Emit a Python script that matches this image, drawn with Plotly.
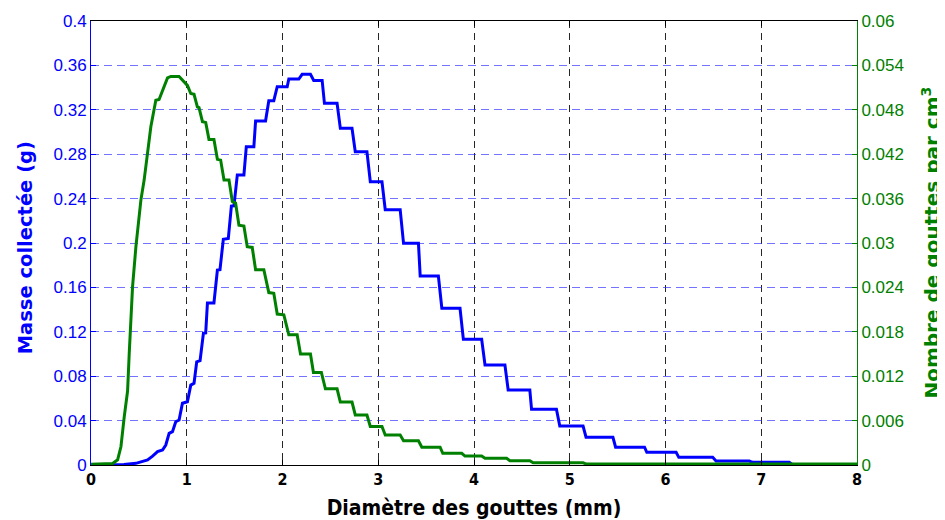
import plotly.graph_objects as go

# Diameter (mm) / collected mass (g) – blue staircase
mass_x = [0.000, 0.344, 0.469, 0.521, 0.591, 0.643, 0.695, 0.747, 0.781, 0.816, 0.851, 0.885, 0.920,
          0.955, 1.007, 1.042, 1.076, 1.104, 1.139, 1.174, 1.198, 1.216, 1.284, 1.320, 1.347, 1.382,
          1.434, 1.466, 1.493, 1.528, 1.597, 1.622, 1.701, 1.719, 1.823, 1.857, 1.909, 1.945, 2.049,
          2.066, 2.170, 2.205, 2.292, 2.326, 2.414, 2.438, 2.570, 2.604, 2.726, 2.760, 2.882, 2.917,
          3.039, 3.073, 3.229, 3.264, 3.420, 3.438, 3.628, 3.664, 3.854, 3.889, 4.080, 4.115, 4.323,
          4.357, 4.583, 4.601, 4.861, 4.896, 5.139, 5.170, 5.451, 5.479, 5.781, 5.805, 6.111, 6.139,
          6.493, 6.528, 6.875, 6.909, 7.292, 7.323, 8.000]
mass_y = [0.0, 0.0005, 0.0015, 0.003, 0.0045, 0.008, 0.012, 0.0135, 0.018, 0.0285, 0.030, 0.039, 0.0405,
          0.0556, 0.057, 0.072, 0.0736, 0.093, 0.094, 0.1187, 0.119, 0.146, 0.146, 0.1757, 0.176, 0.2033,
          0.204, 0.2333, 0.2335, 0.2613, 0.2613, 0.2868, 0.2868, 0.310, 0.310, 0.3282, 0.3282, 0.3408, 0.3408,
          0.3477, 0.3477, 0.352, 0.352, 0.3465, 0.3465, 0.3258, 0.3258, 0.3033, 0.3033, 0.2823, 0.2823, 0.2552,
          0.2552, 0.230, 0.230, 0.1997, 0.1997, 0.1703, 0.1703, 0.1412, 0.1412, 0.1132, 0.1132, 0.0901, 0.0901,
          0.0676, 0.0676, 0.0502, 0.0502, 0.0351, 0.0351, 0.025, 0.025, 0.016, 0.016, 0.0114, 0.0114, 0.0069,
          0.0069, 0.0036, 0.0036, 0.0024, 0.0024, 0.0004, 0.0004]

# Diameter (mm) / number of drops per cm3 – green curve
drops_x = [0.000, 0.226, 0.278, 0.313, 0.347, 0.382, 0.399, 0.417, 0.434, 0.469, 0.521, 0.555, 0.625,
           0.677, 0.711, 0.799, 0.833, 0.920, 0.955, 0.990, 1.007, 1.042, 1.076, 1.111, 1.128, 1.164,
           1.198, 1.232, 1.284, 1.320, 1.354, 1.389, 1.441, 1.476, 1.510, 1.545, 1.597, 1.632, 1.684,
           1.719, 1.805, 1.857, 1.909, 1.945, 2.014, 2.066, 2.153, 2.188, 2.292, 2.323, 2.406, 2.448,
           2.570, 2.604, 2.726, 2.760, 2.882, 2.917, 3.039, 3.073, 3.229, 3.264, 3.420, 3.455, 3.646,
           3.674, 3.872, 3.906, 4.080, 4.115, 4.341, 4.375, 4.583, 4.618, 5.139, 5.174, 8.000]
drops_y = [0.0001, 0.0002, 0.0007, 0.0025, 0.0065, 0.010, 0.015, 0.0196, 0.0241, 0.0295, 0.0358, 0.0385,
           0.0457, 0.0493, 0.0494, 0.0523, 0.0525, 0.0525, 0.0520, 0.0514, 0.0513, 0.0502, 0.0501, 0.0484,
           0.0483, 0.0464, 0.0463, 0.0440, 0.0440, 0.0413, 0.0412, 0.0385, 0.0385, 0.0356, 0.0354, 0.0324,
           0.0323, 0.0295, 0.0294, 0.0264, 0.0264, 0.0233, 0.0232, 0.0204, 0.0203, 0.0176, 0.0176, 0.0150,
           0.0150, 0.0125, 0.0125, 0.0103, 0.0103, 0.0085, 0.0085, 0.00676, 0.00676, 0.0052, 0.0052, 0.00405,
           0.00405, 0.00328, 0.00328, 0.0024, 0.0024, 0.00158, 0.00158, 0.0012, 0.0012, 0.0009, 0.0009,
           0.00058, 0.00058, 0.0003, 0.0003, 0.00013, 0.00013]

x_ticks = [0, 1, 2, 3, 4, 5, 6, 7, 8]
y1_ticks = [0, 0.04, 0.08, 0.12, 0.16, 0.2, 0.24, 0.28, 0.32, 0.36, 0.4]
y1_labels = ["0", "0.04", "0.08", "0.12", "0.16", "0.2", "0.24", "0.28", "0.32", "0.36", "0.4"]
y2_ticks = [0, 0.006, 0.012, 0.018, 0.024, 0.03, 0.036, 0.042, 0.048, 0.054, 0.06]
y2_labels = ["0", "0.006", "0.012", "0.018", "0.024", "0.03", "0.036", "0.042", "0.048", "0.054", "0.06"]

BLUE = "rgb(0,0,255)"
GREEN = "rgb(0,128,0)"
TICKFONT = "Liberation Sans"
TITLEFONT = "DejaVu Sans"
CONDENSED = "DejaVu Sans Condensed, Roboto Condensed, DejaVu Sans"

fig = go.Figure()
fig.add_trace(go.Scatter(x=mass_x, y=mass_y, mode="lines", line=dict(color=BLUE, width=3),
                         yaxis="y", showlegend=False))
fig.add_trace(go.Scatter(x=drops_x, y=drops_y, mode="lines", line=dict(color=GREEN, width=3),
                         yaxis="y2", showlegend=False))

# page body has an 8px margin: figure is 937x512 so that it fits the 945x520 window
fig.update_layout(
    width=937, height=512,
    margin=dict(l=83, r=88, t=13, b=55, autoexpand=False),
    paper_bgcolor="white", plot_bgcolor="white",
    xaxis=dict(range=[0, 8], tickvals=x_ticks, ticktext=[str(t) for t in x_ticks],
               automargin=False,
               showline=True, linecolor="black", linewidth=1, mirror="ticks",
               ticks="inside", ticklen=5, tickcolor="black",
               showgrid=True, gridcolor="rgba(0,0,0,0.85)", griddash="7px,5px", gridwidth=1,
               zeroline=False,
               tickfont=dict(family=CONDENSED, size=16, color="black", weight="bold"),
               title=dict(text="Diamètre des gouttes (mm)", standoff=12,
                          font=dict(family=CONDENSED, size=21, color="black", weight="bold"))),
    yaxis=dict(range=[0, 0.4], tickvals=y1_ticks, ticktext=y1_labels,
               automargin=False,
               showline=True, linecolor=BLUE, linewidth=1,
               ticks="inside", ticklen=5, tickcolor=BLUE,
               showgrid=True, gridcolor="rgba(40,40,255,0.65)", griddash="8px,5px", gridwidth=1,
               zeroline=False,
               tickfont=dict(family=TICKFONT, size=17, color=BLUE)),
    yaxis2=dict(range=[0, 0.06], tickvals=y2_ticks, ticktext=y2_labels,
                automargin=False,
                overlaying="y", side="right",
                showline=True, linecolor=GREEN, linewidth=1,
                ticks="inside", ticklen=5, tickcolor=GREEN,
                showgrid=False, zeroline=False,
                tickfont=dict(family=TICKFONT, size=17, color=GREEN)),
    annotations=[
        dict(text="<b>Masse collectée (g)</b>", xref="paper", yref="paper", x=-0.085, y=0.49,
             xanchor="center", yanchor="middle", textangle=-90, showarrow=False,
             font=dict(family=TITLEFONT, size=19.5, color=BLUE)),
        dict(text="<b>Nombre de gouttes par cm<sup>3</sup></b>", xref="paper", yref="paper", x=1.096, y=0.5,
             xanchor="center", yanchor="middle", textangle=-90, showarrow=False,
             font=dict(family=TITLEFONT, size=20, color=GREEN)),
    ],
)

fig.write_html("out.html")
